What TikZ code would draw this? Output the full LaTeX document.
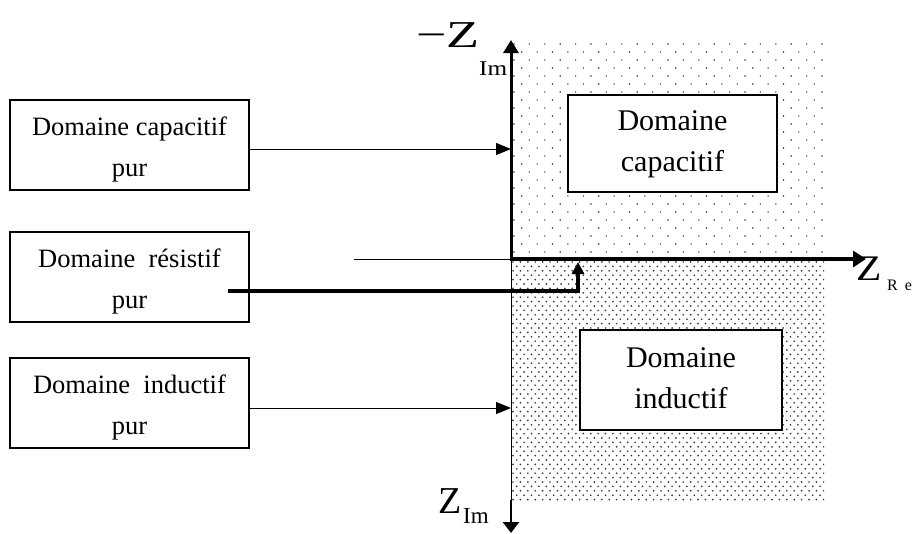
\documentclass[tikz,border=0pt]{standalone}
\usepackage{fontspec}
\usepackage{graphicx}
\setmainfont{Liberation Serif}
\usetikzlibrary{arrows.meta}

\definecolor{dotc}{RGB}{55,55,55}

\tikzset{
  boxline/.style={draw, line width=1.3pt, fill=white, inner sep=0pt},
  lefttxt/.style={align=center, inner sep=0pt, font=\fontsize{26.5}{41}\selectfont},
  righttxt/.style={align=center, inner sep=0pt, font=\fontsize{30}{41}\selectfont},
  thinarrow/.style={line width=1pt, -{Triangle[length=15pt,width=12pt]}},
  lbl/.style={inner sep=0pt, anchor=base west},
}

\begin{document}
\begin{tikzpicture}[x=1pt,y=-1pt]
\useasboundingbox (0,0) rectangle (917,533);

% sparse dots: capacitive half-plane
\begin{scope}
  \clip (511,42) rectangle (824,258);
  \foreach \j in {0,...,27} {
    \pgfmathsetmacro\yy{44+8*\j}
    \pgfmathsetmacro\xo{mod(\j,2)*7.7}
    \foreach \i in {0,...,20} {
      \fill[dotc] (514+\xo+15.4*\i,\yy) circle[radius=0.8pt];
    }
  }
\end{scope}

% dense dots: inductive half-plane
\begin{scope}
  \clip (511,260) rectangle (824,500);
  \foreach \j in {0,...,54} {
    \pgfmathsetmacro\yy{262+4.4*\j}
    \pgfmathsetmacro\xo{mod(\j,2)*3.7}
    \foreach \i in {0,...,42} {
      \fill[dotc] (513+\xo+7.4*\i,\yy) circle[radius=0.95pt];
    }
  }
\end{scope}

% axis points
\coordinate (O) at (511,259);
\coordinate (ytop) at (511,40);
\coordinate (xend) at (866,259);
\coordinate (ybot) at (511,500);
\coordinate (ybotend) at (511,533);
\coordinate (xthin) at (354,259);
\coordinate (a1) at (511,149);
\coordinate (a3) at (511,408);

% axes
\draw[line width=1pt] (xthin) -- (O);
\draw[line width=1pt] (O) -- (ybot);
\draw[line width=3pt, -{Triangle[length=13pt,width=15pt]}] (511,260) -- (ytop);
\draw[line width=4pt, -{Triangle[length=13pt,width=16pt]}] (509.5,259) -- (xend);
\draw[line width=2.5pt, -{Triangle[length=11pt,width=16pt]}] (ybot) -- (ybotend);

% left boxes
\node[boxline, minimum width=239pt, minimum height=90pt] (b1) at (129.5,145) {};
\node[lefttxt] (t1) at ([yshift=-4pt]b1.center) {Domaine capacitif\\pur};
\node[boxline, minimum width=239pt, minimum height=90pt] (b2) at (129.5,277) {};
\node[lefttxt] (t2) at ([yshift=-4pt]b2.center) {Domaine\ \ résistif\\pur};
\node[boxline, minimum width=239pt, minimum height=90pt] (b3) at (129.5,403) {};
\node[lefttxt] (t3) at ([yshift=-4pt]b3.center) {Domaine\ \ inductif\\pur};

% right boxes
\node[boxline, minimum width=209pt, minimum height=97pt] (c1) at (672.5,143.5) {};
\node[righttxt] (tc1) at ([yshift=-1pt]c1.center) {Domaine\\capacitif};
\node[boxline, minimum width=202pt, minimum height=100pt] (c2) at (681,380) {};
\node[righttxt] (tc2) at ([yshift=2pt]c2.center) {Domaine\\inductif};

% pointers from the left boxes
\draw[thinarrow] (b1.east |- a1) -- (a1);
\draw[thinarrow] (b3.east |- a3) -- (a3);
\coordinate (rs) at ([xshift=-22pt,yshift=-14pt]b2.east);
\coordinate (rk) at (578,291);
\coordinate (rt) at (578,262);
\draw[line width=3.5pt, miter limit=10, -{Triangle[length=12pt,width=12pt]}] (rs) -- (rk) -- (rt);

% axis labels
\node[lbl, font=\fontsize{38}{38}\selectfont] (zt) at (416,47) {\scalebox{1.42}[1]{−Z}};
\node[lbl, font=\fontsize{21}{21}\selectfont] (zti) at (479,75) {\scalebox{1.2}[1]{Im}};
\node[lbl, font=\fontsize{38}{38}\selectfont] (zb) at (438,513) {Z};
\node[lbl, font=\fontsize{23}{23}\selectfont] (zbi) at (463,523) {Im};
\node[lbl, font=\fontsize{36}{36}\selectfont] (zr) at (856,280) {\scalebox{1.15}[1]{Z}};
\node[lbl, font=\fontsize{16}{16}\selectfont] (zri) at (887,290) {R\hspace{7pt}e};
\end{tikzpicture}
\end{document}
